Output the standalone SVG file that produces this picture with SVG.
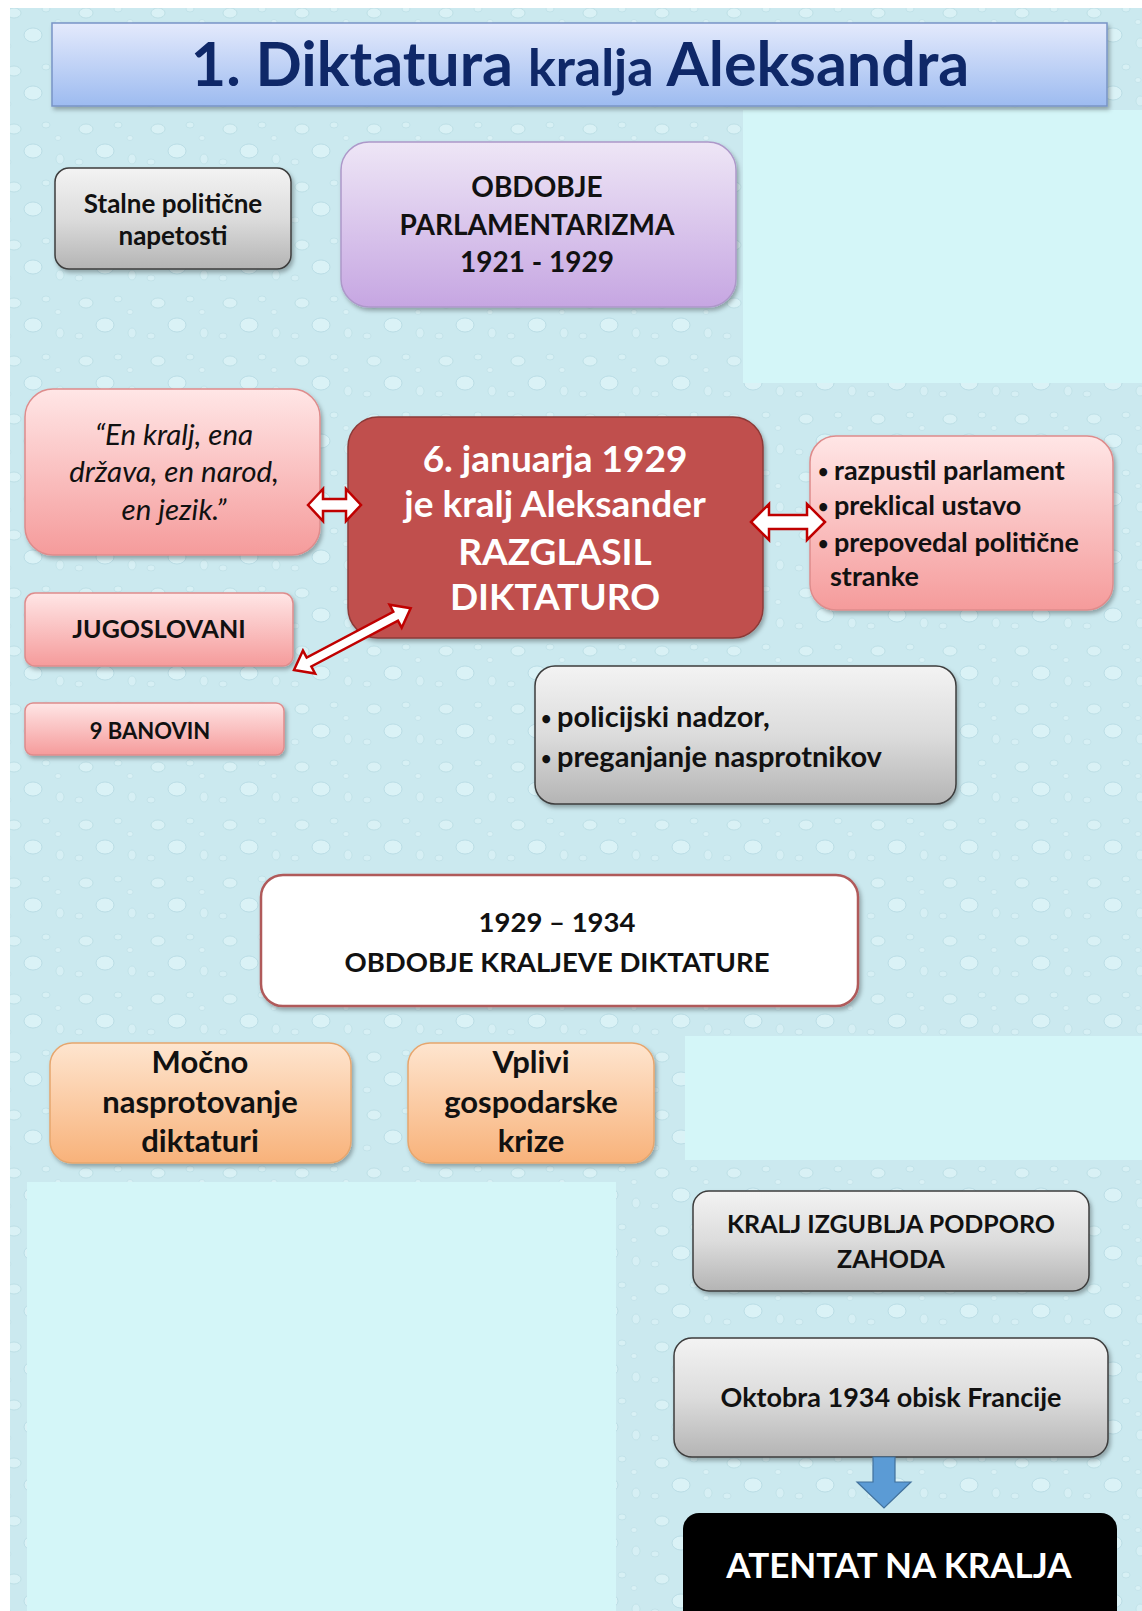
<svg xmlns="http://www.w3.org/2000/svg" width="1142" height="1611" viewBox="0 0 1142 1611">
<defs>
  <pattern id="drops" width="72" height="58" patternUnits="userSpaceOnUse">
    <rect width="72" height="58" fill="#cbe9ef"/>
    <ellipse cx="14" cy="13" rx="7" ry="5" fill="#d9f1f5" stroke="#b3d8e0" stroke-width="0.7"/>
    <ellipse cx="46" cy="9" rx="4" ry="3" fill="#d7f0f4" stroke="#b6dae2" stroke-width="0.6"/>
    <ellipse cx="33" cy="35" rx="9" ry="7" fill="#daf2f6" stroke="#b0d6df" stroke-width="0.7"/>
    <ellipse cx="60" cy="43" rx="4" ry="5" fill="#d6eff4" stroke="#b8dbe3" stroke-width="0.6"/>
    <ellipse cx="7" cy="46" rx="4" ry="3" fill="#d6eff4" stroke="#b8dbe3" stroke-width="0.6"/>
    <ellipse cx="58" cy="22" rx="3" ry="2.5" fill="#d9f1f5" stroke="#b8dbe3" stroke-width="0.5"/>
  </pattern>
  <linearGradient id="gTitle" x1="0" y1="0" x2="0" y2="1">
    <stop offset="0" stop-color="#e4eafc"/>
    <stop offset="1" stop-color="#9dbbf0"/>
  </linearGradient>
  <linearGradient id="gGray" x1="0" y1="0" x2="0" y2="1">
    <stop offset="0" stop-color="#f3f3f3"/>
    <stop offset="0.5" stop-color="#dcdcdc"/>
    <stop offset="1" stop-color="#b4b4b4"/>
  </linearGradient>
  <linearGradient id="gPurple" x1="0" y1="0" x2="0" y2="1">
    <stop offset="0" stop-color="#eee6f6"/>
    <stop offset="1" stop-color="#c6a6e2"/>
  </linearGradient>
  <linearGradient id="gPink" x1="0" y1="0" x2="0" y2="1">
    <stop offset="0" stop-color="#ffe6e6"/>
    <stop offset="1" stop-color="#f59b9b"/>
  </linearGradient>
  <linearGradient id="gOrange" x1="0" y1="0" x2="0" y2="1">
    <stop offset="0" stop-color="#fee5cf"/>
    <stop offset="1" stop-color="#f8b27a"/>
  </linearGradient>
  <filter id="shadow" x="-10%" y="-10%" width="125%" height="130%">
    <feDropShadow dx="2" dy="3" stdDeviation="2" flood-color="#000" flood-opacity="0.3"/>
  </filter>
  <style>
    text { font-family: Lato, "Open Sans", "Liberation Sans", sans-serif; font-weight: bold; fill: #111; text-anchor: middle; }
    .gray { fill: url(#gGray); stroke: #3c3c3c; stroke-width: 1.5; filter: url(#shadow); }
    .purple { fill: url(#gPurple); stroke: #ad98c9; stroke-width: 1.5; filter: url(#shadow); }
    .pink { fill: url(#gPink); stroke: #de8c8c; stroke-width: 1.5; filter: url(#shadow); }
    .orange { fill: url(#gOrange); stroke: #e6a66e; stroke-width: 1.5; filter: url(#shadow); }
    .it { font-size: 29.5px; font-weight: normal; font-style: italic; }
    .red { font-size: 37px; fill: #ffffff; }
    .left { text-anchor: start; }
    .bul { font-size: 18px; }
    .barrow { fill: #ffffff; stroke: #c00000; stroke-width: 2.5; stroke-linejoin: miter; }
  </style>
</defs>

<g id="background">
  <rect x="0" y="0" width="1142" height="1611" fill="#ffffff"/>
  <rect x="10" y="8" width="1132" height="1603" fill="url(#drops)"/>
  <rect x="743" y="110" width="399" height="273" fill="#d4f6f8"/>
  <rect x="685" y="1036" width="457" height="124" fill="#d4f6f8"/>
  <rect x="27" y="1182" width="589" height="429" fill="#d4f6f8"/>
</g>

<g id="node-title">
  <rect x="52" y="23" width="1055" height="83" fill="url(#gTitle)" stroke="#7894c6" stroke-width="1.5" filter="url(#shadow)"/>
  <text x="580" y="86" style="font-size:61px; fill:#0f2868;">1. Diktatura <tspan style="font-size:52px;">kralja</tspan> Aleksandra</text>
</g>

<g id="nodes">
  <g id="node-stalne">
    <rect class="gray" x="55" y="168" width="236" height="101" rx="14"/>
    <text x="173" y="213" style="font-size:26px;">Stalne politične</text>
    <text x="173" y="245" style="font-size:26px;">napetosti</text>
  </g>
  <g id="node-parlamentarizem">
    <rect class="purple" x="341" y="142" width="395" height="165" rx="28"/>
    <text x="537" y="197" style="font-size:28px;">OBDOBJE</text>
    <text x="537" y="235" style="font-size:28px;">PARLAMENTARIZMA</text>
    <text x="537" y="272" style="font-size:28px;">1921 - 1929</text>
  </g>
  <g id="node-geslo">
    <rect class="pink" x="25" y="389" width="295" height="166" rx="28"/>
    <text class="it" x="174" y="445">“En kralj, ena</text>
    <text class="it" x="174" y="482">država, en narod,</text>
    <text class="it" x="174" y="520">en jezik.”</text>
  </g>
  <g id="node-diktatura">
    <rect x="348" y="417" width="415" height="221" rx="30" fill="#c0504d" stroke="#8c3a38" stroke-width="1.5" filter="url(#shadow)"/>
    <text class="red" x="555" y="472">6. januarja 1929</text>
    <text class="red" x="555" y="517">je kralj Aleksander</text>
    <text class="red" x="555" y="565">RAZGLASIL</text>
    <text class="red" x="555" y="610">DIKTATURO</text>
  </g>
  <g id="node-ukrepi">
    <rect class="pink" x="810" y="436" width="303" height="174" rx="26"/>
    <text class="left" y="480" style="font-size:27px;"><tspan class="bul" x="818" dy="-2">•</tspan><tspan x="834" dy="2">razpustil parlament</tspan></text>
    <text class="left" y="515" style="font-size:27px;"><tspan class="bul" x="818" dy="-2">•</tspan><tspan x="834" dy="2">preklical ustavo</tspan></text>
    <text class="left" y="552" style="font-size:27px;"><tspan class="bul" x="818" dy="-2">•</tspan><tspan x="834" dy="2">prepovedal politične</tspan></text>
    <text class="left" x="830" y="586" style="font-size:27px;">stranke</text>
  </g>
  <g id="node-jugoslovani">
    <rect class="pink" x="25" y="593" width="268" height="73" rx="10"/>
    <text x="159" y="638" style="font-size:25px;">JUGOSLOVANI</text>
  </g>
  <g id="node-banovine">
    <rect class="pink" x="25" y="703" width="259" height="52" rx="8"/>
    <text x="150" y="739" style="font-size:22px;">9 BANOVIN</text>
  </g>
  <g id="node-nadzor">
    <rect class="gray" x="535" y="666" width="421" height="138" rx="20"/>
    <text class="left" y="727" style="font-size:29px;"><tspan class="bul" x="541" dy="-2">•</tspan><tspan x="557" dy="2">policijski nadzor,</tspan></text>
    <text class="left" y="767" style="font-size:29px;"><tspan class="bul" x="541" dy="-2">•</tspan><tspan x="557" dy="2">preganjanje nasprotnikov</tspan></text>
  </g>
  <g id="node-obdobje-diktature">
    <rect x="261" y="875" width="597" height="131" rx="22" fill="#ffffff" stroke="#b05a5a" stroke-width="2.5" filter="url(#shadow)"/>
    <text x="557" y="932" style="font-size:27.5px;">1929 – 1934</text>
    <text x="557" y="972" style="font-size:27.5px;">OBDOBJE KRALJEVE DIKTATURE</text>
  </g>
  <g id="node-nasprotovanje">
    <rect class="orange" x="50" y="1043" width="301" height="120" rx="22"/>
    <text x="200" y="1073" style="font-size:31px;">Močno</text>
    <text x="200" y="1113" style="font-size:31px;">nasprotovanje</text>
    <text x="200" y="1152" style="font-size:31px;">diktaturi</text>
  </g>
  <g id="node-kriza">
    <rect class="orange" x="408" y="1043" width="246" height="120" rx="22"/>
    <text x="531" y="1073" style="font-size:31px;">Vplivi</text>
    <text x="531" y="1113" style="font-size:31px;">gospodarske</text>
    <text x="531" y="1152" style="font-size:31px;">krize</text>
  </g>
  <g id="node-zahod">
    <rect class="gray" x="693" y="1191" width="396" height="100" rx="16"/>
    <text x="891" y="1233" style="font-size:25px;">KRALJ IZGUBLJA PODPORO</text>
    <text x="891" y="1268" style="font-size:25px;">ZAHODA</text>
  </g>
  <g id="node-francija">
    <rect class="gray" x="674" y="1338" width="434" height="119" rx="18"/>
    <text x="891" y="1407" style="font-size:27px;">Oktobra 1934 obisk Francije</text>
  </g>
  <g id="node-atentat">
    <rect x="683" y="1513" width="434" height="125" rx="16" fill="#000000"/>
    <text x="899" y="1578" style="font-size:35px; fill:#ffffff;">ATENTAT NA KRALJA</text>
  </g>
</g>

<g id="connectors">
  <path class="barrow" d="M308,505 L323,489 L323,499 L346,499 L346,489 L361,505 L346,521 L346,511 L323,511 L323,521 Z"/>
  <path class="barrow" d="M751,522 L769,504 L769,515 L807,515 L807,504 L825,522 L807,540 L807,529 L769,529 L769,540 Z"/>
  <path class="barrow" transform="translate(294,670) rotate(-27.9)" d="M0,0 L17,-13 L17,-5 L115,-5 L115,-13 L132,0 L115,13 L115,5 L17,5 L17,13 Z"/>
  <path d="M873,1457 L895,1457 L895,1482 L911,1482 L884,1508 L857,1482 L873,1482 Z" fill="#5b9bd5" stroke="#41719c" stroke-width="1.2"/>
</g>
</svg>
